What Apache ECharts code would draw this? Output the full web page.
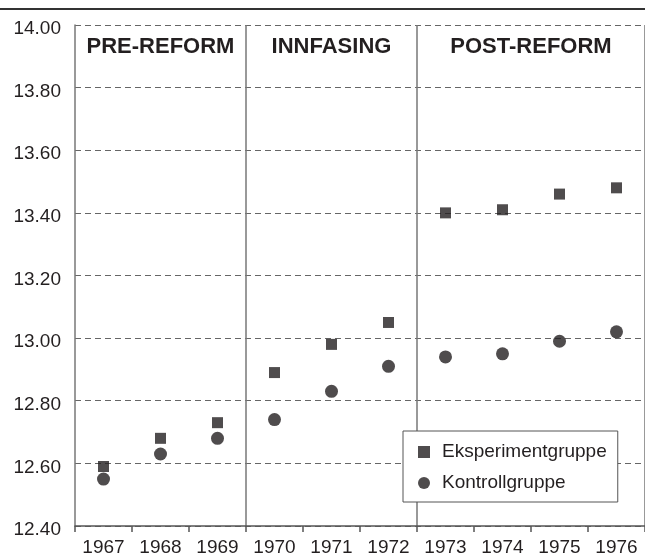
<!DOCTYPE html>
<html>
<head>
<meta charset="utf-8">
<script src="https://cdn.jsdelivr.net/npm/echarts@6/dist/echarts.min.js"></script>
<style>
  html, body { margin: 0; padding: 0; background: #fff; }
  #chart { width: 645px; height: 558px; }
</style>
</head>
<body>
<div id="chart"></div>
<script>
// Years on the x axis
const years = ["1967", "1968", "1969", "1970", "1971", "1972", "1973", "1974", "1975", "1976"];

// Series values
const eksperiment = [12.59, 12.68, 12.73, 12.89, 12.98, 13.05, 13.40, 13.41, 13.46, 13.48];
const kontroll = [12.55, 12.63, 12.68, 12.74, 12.83, 12.91, 12.94, 12.95, 12.99, 13.02];

// Periods: label, first and last year
const periodNames = ["PRE-REFORM", "INNFASING", "POST-REFORM"];
const periodStart = ["1967", "1970", "1973"];
const periodEnd = ["1969", "1972", "1976"];

const font = "'Liberation Sans', Arial, sans-serif";
const ink = "#231f20";

const chart = echarts.init(document.getElementById("chart"));

const option = {
  animation: false,
  backgroundColor: "#fff",
  grid: { left: 75, right: 0, top: 25, bottom: 32 },
  legend: {
    orient: "vertical",
    left: 403,
    top: 431,
    padding: [11, 11, 9, 15],
    itemGap: 11,
    itemWidth: 12,
    itemHeight: 12,
    backgroundColor: "#fff",
    borderColor: "#555",
    borderWidth: 1,
    borderRadius: 0,
    textStyle: { fontFamily: font, fontSize: 19, color: ink, lineHeight: 20, padding: [0, 0, 0, 7] },
    data: [
      { name: "Eksperimentgruppe", icon: "rect", itemStyle: { color: ink } },
      { name: "Kontrollgruppe", icon: "circle", itemStyle: { color: ink } }
    ]
  },
  xAxis: {
    type: "category",
    data: years,
    boundaryGap: true,
    axisLine: { lineStyle: { color: "#555", width: 1.5 } },
    axisTick: { show: true, length: 6, lineStyle: { color: "#555", width: 1.5 } },
    axisLabel: { fontFamily: font, fontSize: 19, color: ink, margin: 12 },
    splitLine: {
      show: true,
      interval: (index) => index === 3 || index === 6,
      lineStyle: { color: "#777", width: 1.5, type: "solid" }
    }
  },
  yAxis: {
    type: "value",
    min: 12.4,
    max: 14,
    interval: 0.2,
    axisLine: { show: true, lineStyle: { color: "#777", width: 1.5 } },
    axisTick: { show: false },
    axisLabel: {
      margin: 14,
      formatter: (v) => "{t|" + v.toFixed(2) + "}",
      rich: {
        t: { fontFamily: font, fontSize: 19, color: ink, padding: [8, 0, 0, 0] }
      }
    },
    splitLine: { show: true, lineStyle: { color: "#666", width: 1.2, type: [6, 4] } }
  },
  series: [
    {
      name: "Eksperimentgruppe",
      type: "scatter",
      symbol: "rect",
      symbolSize: 11,
      itemStyle: { color: ink },
      data: eksperiment
    },
    {
      name: "Kontrollgruppe",
      type: "scatter",
      symbol: "circle",
      symbolSize: 13,
      itemStyle: { color: ink },
      data: kontroll
    }
  ]
};

chart.setOption(option);

// Period labels centred in each section, placed with the axis scale
const band = chart.convertToPixel({ xAxisIndex: 0 }, "1968") - chart.convertToPixel({ xAxisIndex: 0 }, "1967");
const topY = chart.convertToPixel({ yAxisIndex: 0 }, 14);
const graphics = [
  {
    type: "line",
    shape: { x1: 0, y1: 9, x2: 645, y2: 9 },
    style: { stroke: "#333", lineWidth: 2 }
  }
];
periodNames.forEach((name, i) => {
  const x0 = chart.convertToPixel({ xAxisIndex: 0 }, periodStart[i]) - band / 2;
  const x1 = chart.convertToPixel({ xAxisIndex: 0 }, periodEnd[i]) + band / 2;
  graphics.push({
    type: "text",
    x: (x0 + x1) / 2,
    y: topY + 22,
    style: {
      text: name,
      fontFamily: font,
      fontSize: 22,
      fontWeight: "bold",
      fill: ink,
      align: "center",
      verticalAlign: "middle"
    }
  });
});
chart.setOption({ graphic: graphics });
</script>
</body>
</html>
